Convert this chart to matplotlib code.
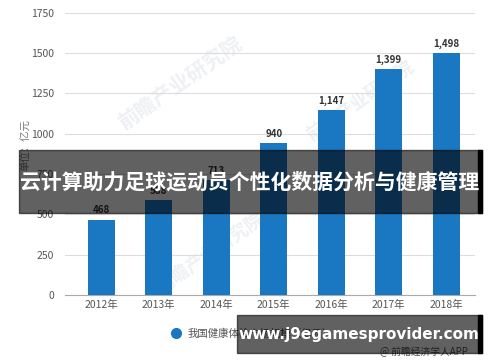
import matplotlib
matplotlib.use("Agg")
import matplotlib.pyplot as plt
from matplotlib.patches import Rectangle

plt.rcParams['font.family'] = ['Noto Sans CJK SC', 'DejaVu Sans']

# data
years = ["2012年", "2013年", "2014年", "2015年", "2016年", "2017年", "2018年"]
values = [468, 588, 713, 940, 1147, 1399, 1498]
yticks = [0, 250, 500, 750, 1000, 1250, 1500, 1750]

title = "云计算助力足球运动员个性化数据分析与健康管理"
legend_label = "我国健康体检市场规模（亿元）"
unit_label = "单位：亿元"
source = "@ 前瞻经济学人APP"
url = "www.j9egamesprovider.com"

bar_color = "#1a78c2"

fig = plt.figure(figsize=(5, 3.62), dpi=100)
ax = fig.add_axes([0.13, 0.185, 0.82, 0.78])

x = list(range(len(years)))
ax.bar(x, values, width=0.47, color=bar_color, zorder=3)
for xi, v in zip(x, values):
    ax.text(xi, v + 25, f"{v:,}", ha="center", va="bottom", fontsize=7,
            fontweight="bold", color="#333333", zorder=4)

ax.set_xlim(-0.63, 6.5)
ax.set_ylim(0, 1750)
ax.set_yticks(yticks)
ax.set_xticks(x)
ax.set_xticklabels(years)
ax.tick_params(axis="both", length=0, labelsize=7.5, colors="#555555")
ax.tick_params(axis="y", pad=8)
ax.grid(axis="y", color="#dddddd", linewidth=0.8, zorder=0)
for s in ["top", "right", "left"]:
    ax.spines[s].set_visible(False)
ax.spines["bottom"].set_color("#aaaaaa")

fig.text(0.052, 0.6, unit_label, rotation=90, ha="center", va="center",
         fontsize=7.5, color="#777777")

# faint watermarks, behind the bars
for wx, wy, ws in [(0.36, 0.77, 15), (0.72, 0.72, 13), (0.42, 0.3, 13)]:
    ax.text(wx, wy, "前瞻产业研究院", rotation=35, ha="center", va="center",
            fontsize=ws, color="#eef0f3", fontweight="bold", zorder=1,
            transform=fig.transFigure)

# legend
fig.add_artist(plt.Line2D([0.352], [0.08], marker="o", markersize=7,
                          color=bar_color, transform=fig.transFigure))
fig.text(0.375, 0.08, legend_label, ha="left", va="center", fontsize=7.5,
         color="#555555")
fig.text(0.935, 0.027, source, ha="right", va="center", fontsize=7,
         color="#555555")

# dark title band
fig.patches.append(Rectangle((0.038, 0.412), 0.926, 0.174, transform=fig.transFigure,
                             color="black", alpha=0.62, zorder=5))
fig.patches.append(Rectangle((0.956, 0.412), 0.008, 0.174, transform=fig.transFigure,
                             color="black", zorder=5))
fig.text(0.499, 0.497, title, ha="center", va="center", fontsize=15,
         fontweight="bold", color="white", zorder=6)

# url band
fig.patches.append(Rectangle((0.474, 0.025), 0.49, 0.105, transform=fig.transFigure,
                             color="black", alpha=0.62, zorder=5))
fig.patches.append(Rectangle((0.956, 0.025), 0.008, 0.105, transform=fig.transFigure,
                             color="black", zorder=5))
fig.text(0.717, 0.077, url, ha="center", va="center", fontsize=11,
         fontweight="bold", color="white", family="DejaVu Sans", zorder=6)

fig.savefig("out.png", dpi=100)
